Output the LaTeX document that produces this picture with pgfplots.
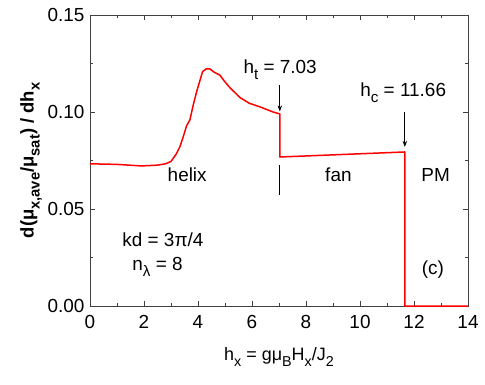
\documentclass[border=0pt]{standalone}
\usepackage{fontspec}
\setmainfont{Liberation Sans}
\usepackage{pgfplots}
\pgfplotsset{compat=1.18}
\usetikzlibrary{arrows.meta}
\definecolor{axisgray}{HTML}{404040}
% low, fairly large subscripts as in the reference
\newcommand{\sub}[1]{\raisebox{-0.6ex}{\scalebox{0.8}{#1}}}

\begin{document}
\begin{tikzpicture}[x=1bp,y=1bp]
  % invisible frame to fix the page size to the reference proportions
  \path (-90,-78) rectangle (395,306);
  \begin{axis}[
      at={(0,0)}, anchor=south west,
      scale only axis,
      width=378bp, height=291bp,
      xmin=0, xmax=14, ymin=0, ymax=0.15,
      xtick={0,2,...,14},
      ytick={0,0.05,0.10,0.15},
      minor x tick num=1,
      minor y tick num=1,
      tick align=inside,
      major tick length=5bp,
      minor tick length=3bp,
      axis line style={axisgray, line width=0.8pt},
      every tick/.style={axisgray, line width=0.8pt},
      tick label style={font=\fontsize{19}{22}\selectfont},
      /pgf/number format/assume math mode=true,
      yticklabel style={xshift=-2bp, /pgf/number format/.cd, fixed, fixed zerofill, precision=2},
      xticklabel style={yshift=-6bp},
      xlabel={h\sub{x} = gμ\sub{B}H\sub{x}/J\sub{2}},
      ylabel={\bfseries d(μ\sub{x,ave}/μ\sub{sat}) / dh\sub{x}},
      xlabel style={font=\fontsize{18}{21}\selectfont, yshift=-12bp},
      ylabel style={font=\fontsize{18.5}{22}\selectfont, yshift=-1bp},
      clip=false,
    ]
    \addplot[red, line width=1.5pt, line join=round] table {
      0     0.0733
      1.0   0.0730
      1.9   0.0722
      2.5   0.0726
      2.8   0.0733
      3.0   0.0745
      3.2   0.0785
      3.33  0.0821
      3.45  0.0871
      3.58  0.0930
      3.70  0.0959
      3.83  0.1040
      3.96  0.1110
      4.17  0.1208
      4.30  0.1222
      4.44  0.1222
      4.60  0.1205
      4.81  0.1190
      5.00  0.1155
      5.19  0.1124
      5.56  0.1074
      5.90  0.1045
      6.30  0.1026
      6.78  0.1000
      7.03  0.0990
      7.03  0.0768
      11.66 0.0794
      11.66 0
      14    0
    };
    \draw[-{Stealth[length=6bp,width=4.5bp]}, line width=0.7pt] (axis cs:7.03,0.1139) -- (axis cs:7.03,0.1003);
    \draw[-{Stealth[length=6bp,width=4.5bp]}, line width=0.7pt] (axis cs:11.66,0.1000) -- (axis cs:11.66,0.0820);
    \draw[line width=0.7pt] (axis cs:7.03,0.0727) -- (axis cs:7.03,0.0572);
    \begin{scope}[every node/.style={font=\fontsize{19}{22}\selectfont}]
      \node at (axis cs:7.04,0.1216) {h\sub{t} = 7.03};
      \node at (axis cs:11.6,0.1100) {h\sub{c} = 11.66};
      \node at (axis cs:3.6,0.0675) {helix};
      \node at (axis cs:9.2,0.0675) {fan};
      \node at (axis cs:12.8,0.0675) {PM};
      \node at (axis cs:2.7,0.0340) {kd = 3π/4};
      \node at (axis cs:2.5,0.0200) {n\sub{λ} = 8};
      \node at (axis cs:12.7,0.0186) {(c)};
    \end{scope}
  \end{axis}
\end{tikzpicture}
\end{document}
